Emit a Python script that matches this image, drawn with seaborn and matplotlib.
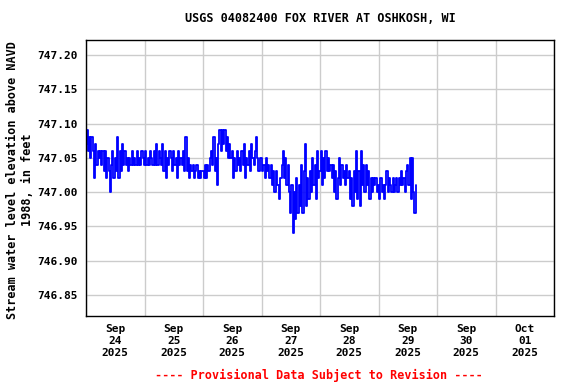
import pandas as pd
import matplotlib
matplotlib.use("Agg")
import matplotlib.pyplot as plt
import matplotlib.dates as mdates
import seaborn as sns

# water level, hundredths of a foot above 747.00, 30-minute steps
sep24 = [7, 9, 6, 8, 5, 8, 6, 2, 7, 4, 6, 5, 6, 4, 6, 3, 6, 2, 5, 3, 0, 4, 6, 2,
         5, 3, 8, 2, 6, 3, 7, 4, 6, 4, 5, 3, 5, 4, 6, 4, 5, 4, 6, 4, 5, 4, 6, 5]
sep25 = [4, 6, 4, 5, 4, 6, 5, 4, 6, 4, 7, 4, 6, 5, 4, 7, 3, 6, 2, 5, 4, 6, 5, 3,
         6, 4, 5, 2, 6, 4, 5, 4, 6, 3, 8, 3, 5, 2, 4, 3, 4, 2, 3, 4, 2, 3, 2, 3]
sep26 = [3, 2, 4, 2, 4, 3, 5, 6, 4, 8, 3, 5, 1, 7, 9, 6, 9, 7, 9, 6, 8, 5, 7, 5,
         6, 2, 5, 3, 6, 4, 5, 3, 6, 4, 7, 2, 5, 4, 6, 3, 7, 5, 4, 6, 8, 5, 3, 5]
sep27 = [5, 3, 4, 2, 5, 3, 4, 2, 4, 1, 3, 0, 3, 1, 1, -1, 2, 4, 6, 2, 5, 1, 4, 0,
         -3, 1, -6, 0, -4, 2, -3, 1, -2, 4, -3, 3, 7, -2, 2, -1, 3, 0, 5, 1, 4, -1, 6, 2]
sep28 = [3, 6, 1, 5, 2, 6, 3, 5, 3, 4, 2, 4, 0, 3, -1, 2, 5, 1, 4, 2, 3, 1, 4, 2,
         3, -1, 2, -2, 3, 0, 6, -1, 3, -2, 6, 1, 4, 0, 4, 1, 3, -1, 2, 0, 2, 1, 2, 0]
sep29 = [1, -1, 2, 0, 1, -1, 1, 3, 0, 2, 1, 0, 2, 0, 1, 2, 0, 2, 1, 3, 1, 2, 0, 3,
         4, 1, 5, -1, 5, 0, -3, 1]

hundredths = sep24 + sep25 + sep26 + sep27 + sep28 + sep29
times = pd.date_range("2025-09-24 00:00", periods=len(hundredths), freq="30min")
df = pd.DataFrame({"time": times, "stage": [747.0 + h / 100 for h in hundredths]})

yticks = [746.85, 746.90, 746.95, 747.00, 747.05, 747.10, 747.15, 747.20]
day_labels = ["Sep\n24\n2025", "Sep\n25\n2025", "Sep\n26\n2025", "Sep\n27\n2025",
              "Sep\n28\n2025", "Sep\n29\n2025", "Sep\n30\n2025", "Oct\n01\n2025"]

sns.set_style("white")
plt.rcParams["font.family"] = ["DejaVu Sans Mono"]
plt.rcParams["font.weight"] = "bold"
plt.rcParams["text.color"] = "black"
plt.rcParams["xtick.color"] = "black"
plt.rcParams["ytick.color"] = "black"

fig = plt.figure(figsize=(5.76, 3.84), dpi=100)
ax = fig.add_axes([86 / 576, 1 - 316 / 384, 468 / 576, 276 / 384])

sns.lineplot(data=df, x="time", y="stage", color="#0000ff", linewidth=1.3,
             drawstyle="steps-mid", ax=ax)

ax.set_xlim(pd.Timestamp("2025-09-24"), pd.Timestamp("2025-10-02"))
ax.set_ylim(746.819, 747.222)

noons = pd.date_range("2025-09-24 12:00", periods=8, freq="D")
ax.set_xticks(noons)
ax.set_xticklabels(day_labels, fontsize=8, fontweight="bold", color="black")
ax.xaxis.set_minor_locator(mdates.DayLocator())
ax.set_yticks(yticks)
ax.set_yticklabels([f"{v:.2f}" for v in yticks], fontsize=8, fontweight="bold", color="black")
ax.tick_params(which="both", length=0)
ax.tick_params(axis="x", pad=6)
ax.tick_params(axis="y", pad=6)

ax.grid(False)
ax.xaxis.grid(True, which="minor", color="#cccccc", linewidth=1)
ax.yaxis.grid(True, which="major", color="#cccccc", linewidth=1)
ax.set_axisbelow(True)
for s in ax.spines.values():
    s.set_color("black")
    s.set_linewidth(1.0)

ax.set_xlabel("")
ax.set_ylabel("")

fig.text(320 / 576, 1 - 19 / 384, "USGS 04082400 FOX RIVER AT OSHKOSH, WI",
         ha="center", va="center", fontsize=8.5, fontweight="bold", color="black")
fig.text(20 / 576, 1 - 180 / 384, "Stream water level elevation above NAVD\n1988, in feet",
         ha="center", va="center", rotation=90, fontsize=8.5, fontweight="bold",
         multialignment="center", color="black")
fig.text(319 / 576, 1 - 375 / 384, "---- Provisional Data Subject to Revision ----",
         ha="center", va="center", fontsize=8.5, fontweight="bold", color="red")

fig.savefig("out.png", dpi=100)
